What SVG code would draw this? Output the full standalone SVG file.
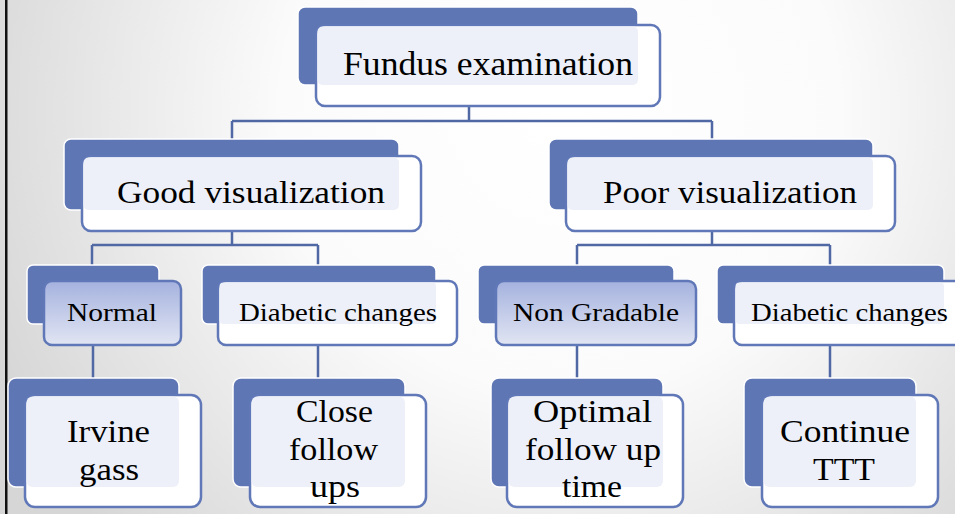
<svg xmlns="http://www.w3.org/2000/svg" width="955" height="514" viewBox="0 0 955 514">
<defs>
<radialGradient id="bg" cx="560" cy="110" r="620" gradientUnits="userSpaceOnUse">
<stop offset="0" stop-color="#ffffff"/>
<stop offset="0.45" stop-color="#fbfbfb"/>
<stop offset="1" stop-color="#d6d6d6"/>
</radialGradient>
<linearGradient id="grad" x1="0" y1="0" x2="0" y2="1">
<stop offset="0" stop-color="#a5b2de"/>
<stop offset="1" stop-color="#e1e5f3"/>
</linearGradient>
<style>
.back{fill:#5f76b4;stroke:#ffffff;stroke-width:1.5}
.front{fill:#ffffff;stroke:#6078b7;stroke-width:2.5}
.frontg{fill:url(#grad);stroke:#6078b7;stroke-width:2.5}
.pale{fill:#edf0f8}
.conn{fill:none;stroke:#5068a3;stroke-width:2.5}
text{font-family:"Liberation Serif","Times New Roman",serif;fill:#000;text-anchor:middle}
.t1{font-size:33px}
.t2{font-size:31px}
.t3{font-size:26px}
.t4{font-size:32px}
</style>
</defs>
<rect x="0" y="0" width="955" height="514" fill="url(#bg)"/>
<rect x="5" y="0" width="2.5" height="514" fill="#111"/>
<g id="connectors">
<path class="conn" d="M469,106 V121 M232,121 H712 M232,121 V139 M712,121 V139"/>
<path class="conn" d="M232,231 V245 M92,245 H318 M92,245 V265 M318,245 V265"/>
<path class="conn" d="M712,231 V245 M577,245 H830 M577,245 V265 M830,245 V265"/>
<path class="conn" d="M93,345 V378 M318,345 V378 M577,345 V378 M830,345 V378"/>
</g>
<g id="fundus">
<rect class="back" x="298" y="7" width="340" height="78" rx="7"/>
<rect class="front" x="316" y="25" width="344" height="81" rx="9"/>
<rect class="pale" x="317.5" y="26.5" width="320.5" height="58.5" rx="5"/>
<text class="t1" x="488" y="75" textLength="290" lengthAdjust="spacingAndGlyphs">Fundus examination</text>
</g>
<g id="good">
<rect class="back" x="64" y="139" width="335" height="71" rx="7"/>
<rect class="front" x="82" y="156" width="339" height="75" rx="9"/>
<rect class="pale" x="83.5" y="157.5" width="315.5" height="52.5" rx="5"/>
<text class="t2" x="251" y="203" textLength="268" lengthAdjust="spacingAndGlyphs">Good visualization</text>
</g>
<g id="poor">
<rect class="back" x="549" y="139" width="324" height="71" rx="7"/>
<rect class="front" x="566" y="156" width="329" height="75" rx="9"/>
<rect class="pale" x="567.5" y="157.5" width="305.5" height="52.5" rx="5"/>
<text class="t2" x="730" y="203" textLength="254" lengthAdjust="spacingAndGlyphs">Poor visualization</text>
</g>
<g id="normal">
<rect class="back" x="27" y="265" width="132" height="59" rx="6"/>
<rect class="frontg" x="44" y="281" width="137" height="64" rx="8"/>
<text class="t3" x="112" y="321" textLength="90" lengthAdjust="spacingAndGlyphs">Normal</text>
</g>
<g id="diabetic-left">
<rect class="back" x="202" y="265" width="234" height="59" rx="6"/>
<rect class="front" x="218" y="281" width="239" height="64" rx="8"/>
<rect class="pale" x="219.5" y="282.5" width="216.5" height="41.5" rx="4"/>
<text class="t3" x="338" y="321" textLength="198" lengthAdjust="spacingAndGlyphs">Diabetic changes</text>
</g>
<g id="nongradable">
<rect class="back" x="478" y="265" width="196" height="59" rx="6"/>
<rect class="frontg" x="496" y="281" width="200" height="64" rx="8"/>
<text class="t3" x="596" y="321" textLength="166" lengthAdjust="spacingAndGlyphs">Non Gradable</text>
</g>
<g id="diabetic-right">
<rect class="back" x="717" y="265" width="227" height="59" rx="6"/>
<rect class="front" x="734" y="281" width="240" height="64" rx="8"/>
<rect class="pale" x="735.5" y="282.5" width="208.5" height="41.5" rx="4"/>
<text class="t3" x="849.5" y="321" textLength="197" lengthAdjust="spacingAndGlyphs">Diabetic changes</text>
</g>
<g id="irvine">
<rect class="back" x="8" y="378" width="171" height="109" rx="8"/>
<rect class="front" x="25" y="395" width="176" height="112" rx="10"/>
<rect class="pale" x="26.5" y="396.5" width="152.5" height="90.5" rx="6"/>
<text class="t4" x="108.5" y="442" textLength="83" lengthAdjust="spacingAndGlyphs">Irvine</text>
<text class="t4" x="109" y="480" textLength="60" lengthAdjust="spacingAndGlyphs">gass</text>
</g>
<g id="close">
<rect class="back" x="233" y="378" width="172" height="109" rx="8"/>
<rect class="front" x="250" y="395" width="176" height="112" rx="10"/>
<rect class="pale" x="251.5" y="396.5" width="153.5" height="90.5" rx="6"/>
<text class="t4" x="334.5" y="422" textLength="77" lengthAdjust="spacingAndGlyphs">Close</text>
<text class="t4" x="333.5" y="460" textLength="89" lengthAdjust="spacingAndGlyphs">follow</text>
<text class="t4" x="335" y="497" textLength="50" lengthAdjust="spacingAndGlyphs">ups</text>
</g>
<g id="optimal">
<rect class="back" x="491" y="378" width="172" height="109" rx="8"/>
<rect class="front" x="507" y="395" width="176" height="112" rx="10"/>
<rect class="pale" x="508.5" y="396.5" width="154.5" height="90.5" rx="6"/>
<text class="t4" x="592.5" y="422" textLength="119" lengthAdjust="spacingAndGlyphs">Optimal</text>
<text class="t4" x="593" y="460" textLength="136" lengthAdjust="spacingAndGlyphs">follow up</text>
<text class="t4" x="592" y="497" textLength="60" lengthAdjust="spacingAndGlyphs">time</text>
</g>
<g id="continue">
<rect class="back" x="744" y="378" width="172" height="109" rx="8"/>
<rect class="front" x="762" y="395" width="176" height="112" rx="10"/>
<rect class="pale" x="763.5" y="396.5" width="152.5" height="90.5" rx="6"/>
<text class="t4" x="845" y="442" textLength="130" lengthAdjust="spacingAndGlyphs">Continue</text>
<text class="t4" x="844" y="480" textLength="62" lengthAdjust="spacingAndGlyphs">TTT</text>
</g>
</svg>
